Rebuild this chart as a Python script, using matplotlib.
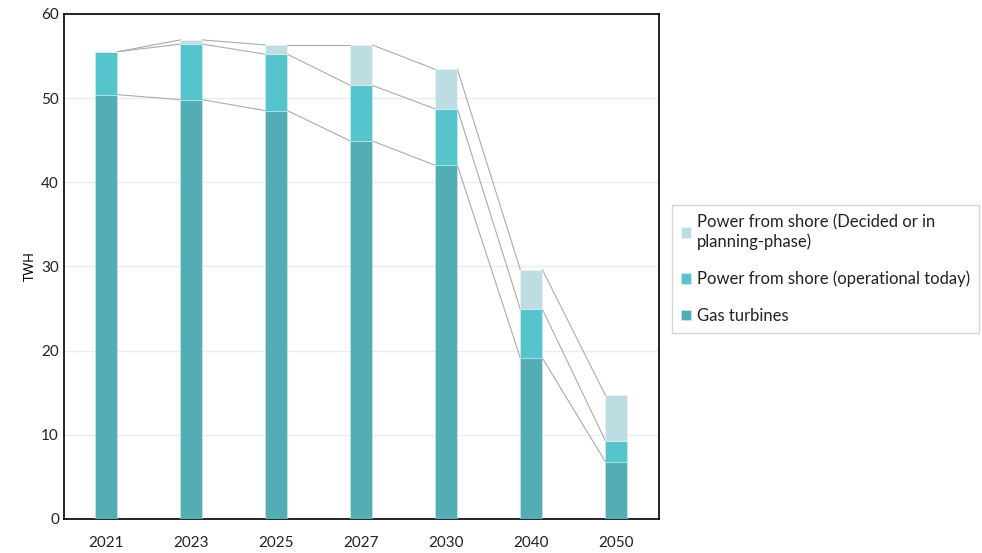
import matplotlib.pyplot as plt
import numpy as np

plt.rcParams['font.family'] = ['Lato', 'DejaVu Sans']

years = ['2021', '2023', '2025', '2027', '2030', '2040', '2050']
gas = [50.4, 49.8, 48.5, 44.9, 42.0, 19.1, 6.8]
operational = [5.1, 6.6, 6.7, 6.6, 6.7, 5.8, 2.5]
decided = [0.0, 0.5, 1.1, 4.8, 4.7, 4.7, 5.4]

c_gas = '#52aeb4'
c_op = '#56c4cc'
c_dec = '#bcdde2'


def main():
    fig = plt.figure(figsize=(9.82, 5.53), dpi=100)
    ax = fig.add_axes([0.065, 0.0615, 0.606, 0.9135])

    x = np.arange(len(years))
    w = 0.26
    g = np.array(gas)
    o = np.array(operational)
    d = np.array(decided)

    edge = dict(edgecolor=(1, 1, 1, 0.35), linewidth=0.6, zorder=3)
    ax.bar(x, g, w, color=c_gas, label='Gas turbines', **edge)
    ax.bar(x, o, w, bottom=g, color=c_op,
           label='Power from shore (operational today)', **edge)
    ax.bar(x, d, w, bottom=g + o, color=c_dec,
           label='Power from shore (Decided or in\nplanning-phase)', **edge)

    # connector lines between bar tops
    for level in (g, g + o, g + o + d):
        for i in range(len(x) - 1):
            ax.plot([x[i] + w / 2, x[i + 1] - w / 2], [level[i], level[i + 1]],
                    color='#ababab', lw=0.8, zorder=2)

    ax.set_ylim(0, 60)
    ax.set_xlim(-0.5, len(x) - 0.5)
    ax.set_yticks(range(0, 61, 10))
    ax.set_xticks(x)
    ax.set_xticklabels(years)
    ax.yaxis.grid(True, color='#ececec', lw=1, zorder=0)
    ax.tick_params(length=0, labelsize=11, colors='#222222')
    ax.tick_params(axis='x', pad=12)
    ax.set_ylabel('TWH', fontsize=9)
    for s in ax.spines.values():
        s.set_color('black')
        s.set_linewidth(1.2)

    h, l = ax.get_legend_handles_labels()
    leg = fig.legend(h[::-1], l[::-1], loc='upper left',
                     bbox_to_anchor=(0.684, 0.629), fontsize=12,
                     frameon=True, fancybox=False, edgecolor='#cccccc',
                     handlelength=0.6, handleheight=0.6, handletextpad=0.35,
                     labelspacing=1.25, borderpad=0.55, borderaxespad=0)
    leg.get_frame().set_linewidth(1)
    for t in leg.get_texts():
        t.set_color('#222222')

    fig.savefig('out.png', dpi=100)


if __name__ == "__main__":
    main()
